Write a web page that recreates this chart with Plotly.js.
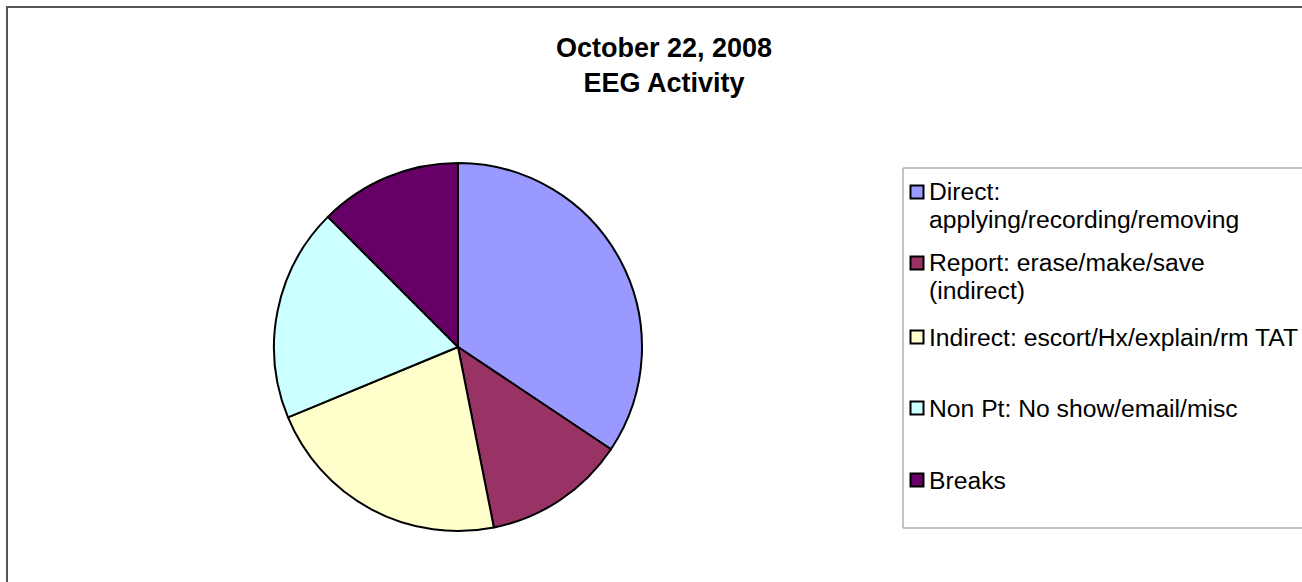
<!DOCTYPE html>
<html>
<head>
<meta charset="utf-8">
<script src="https://cdn.plot.ly/plotly-3.0.1.min.js"></script>
<style>
  html, body { margin: 0; padding: 0; background: #fff; }
  #chart { width: 1302px; height: 582px; }
</style>
</head>
<body>
<div id="chart"></div>
<script>
// ---- Data (minutes in an 8-hour day) ----
const categories = [
  "Direct:<br>applying/recording/removing",
  "Report: erase/make/save<br>(indirect)",
  "Indirect: escort/Hx/explain/rm TAT",
  "Non Pt: No show/email/misc",
  "Breaks"
];
const minutes = [165, 60, 105, 90, 60];
const sliceColors = ["#9999FF", "#993366", "#FFFFCC", "#CCFFFF", "#660066"];
const chartTitle = "October 22, 2008<br>EEG Activity";

// ---- Layout helpers (pixel -> paper fraction) ----
const W = 1302, H = 582;
const px = x => x / W;
const py = y => 1 - y / H;

const FONT = "Arial, 'Liberation Sans', Helvetica, sans-serif";

// Pie placement: center (458,347), radius 184
const cx = 458, cy = 347, r = 184;

const trace = {
  type: "pie",
  labels: categories,
  values: minutes,
  sort: false,
  direction: "clockwise",
  rotation: 0,
  textinfo: "none",
  hoverinfo: "label+value+percent",
  marker: { colors: sliceColors, line: { color: "#000000", width: 2 } },
  domain: { x: [px(cx - r), px(cx + r)], y: [py(cy + r), py(cy - r)] },
  showlegend: false
};

// Legend drawn as shapes + annotations (Excel-style spacing)
const legendRowY = [192, 263, 337, 408, 480];   // pixel centre of first line
const lineStep = 27;
const shapes = [
  // outer chart-area border (top and left visible)
  { type: "rect", xref: "paper", yref: "paper",
    x0: px(7), x1: px(1320), y0: py(600), y1: py(7),
    line: { color: "#555555", width: 2 }, fillcolor: "rgba(0,0,0,0)" },
  // legend box
  { type: "rect", xref: "paper", yref: "paper",
    x0: px(903), x1: px(1320), y0: py(528), y1: py(168),
    line: { color: "#888888", width: 1 }, fillcolor: "rgba(0,0,0,0)" }
];
const annotations = [];
categories.forEach((lab, i) => {
  const yc = legendRowY[i];
  shapes.push({
    type: "rect", xref: "paper", yref: "paper",
    x0: px(910.5), x1: px(923.5), y0: py(yc + 6.5), y1: py(yc - 6.5),
    line: { color: "#000000", width: 2 }, fillcolor: sliceColors[i]
  });
  lab.split("<br>").forEach((line, j) => {
    annotations.push({
      xref: "paper", yref: "paper",
      x: px(927), y: py(yc + j * lineStep),
      xanchor: "left", yanchor: "middle",
      text: line, showarrow: false,
      font: { family: FONT, size: 24.7, color: "#000000" }
    });
  });
});

const layout = {
  width: W, height: H,
  margin: { l: 0, r: 0, t: 0, b: 0 },
  paper_bgcolor: "#ffffff",
  plot_bgcolor: "#ffffff",
  title: {
    text: chartTitle,
    font: { family: FONT, size: 27, color: "#000000", weight: "bold" },
    x: 664 / W, xanchor: "center", xref: "paper",
    y: 1 - 57 / H, yanchor: "middle", yref: "container"
  },
  shapes: shapes,
  annotations: annotations,
  showlegend: false
};

Plotly.newPlot("chart", [trace], layout, { displayModeBar: false, staticPlot: true });
</script>
</body>
</html>
